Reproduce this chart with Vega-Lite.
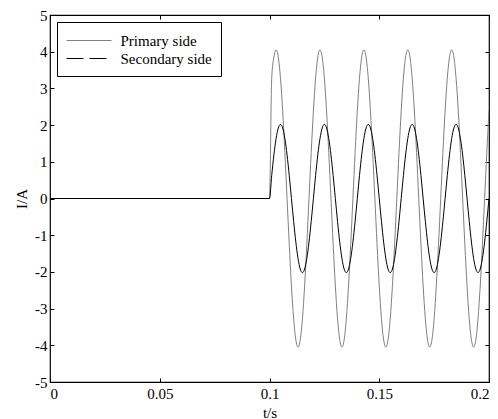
{
  "$schema": "https://vega.github.io/schema/vega-lite/v6.json",
  "autosize": {"type": "none"},
  "padding": {"left": 50, "top": 15, "right": 9, "bottom": 37},
  "width": 439,
  "height": 367,
  "background": "white",
  "config": {
    "view": {"stroke": "black", "strokeWidth": 1.2},
    "font": "Liberation Serif",
    "axis": {
      "grid": false,
      "zindex": 1,
      "domain": false,
      "ticks": true,
      "tickColor": "black",
      "tickWidth": 1,
      "tickSize": 4,
      "offset": -4,
      "labelColor": "black",
      "titleColor": "black",
      "labelFont": "Liberation Serif",
      "titleFont": "Liberation Serif",
      "labelFontSize": 15,
      "titleFontSize": 15,
      "titleFontWeight": "normal"
    }
  },
  "data": {"values": [
    {"t":0,"p":0,"s":0},
    {"t":0.1,"p":0,"s":0},
    {"t":0.101,"p":3.277,"s":0.624},
    {"t":0.102,"p":3.852,"s":1.187},
    {"t":0.103,"p":4.05,"s":1.634},
    {"t":0.104,"p":3.852,"s":1.921},
    {"t":0.105,"p":3.277,"s":2.02},
    {"t":0.106,"p":2.381,"s":1.921},
    {"t":0.107,"p":1.252,"s":1.634},
    {"t":0.108,"p":0,"s":1.187},
    {"t":0.109,"p":-1.252,"s":0.624},
    {"t":0.11,"p":-2.381,"s":0},
    {"t":0.111,"p":-3.277,"s":-0.624},
    {"t":0.112,"p":-3.852,"s":-1.187},
    {"t":0.113,"p":-4.05,"s":-1.634},
    {"t":0.114,"p":-3.852,"s":-1.921},
    {"t":0.115,"p":-3.277,"s":-2.02},
    {"t":0.116,"p":-2.381,"s":-1.921},
    {"t":0.117,"p":-1.252,"s":-1.634},
    {"t":0.118,"p":0,"s":-1.187},
    {"t":0.119,"p":1.252,"s":-0.624},
    {"t":0.12,"p":2.381,"s":0},
    {"t":0.121,"p":3.277,"s":0.624},
    {"t":0.122,"p":3.852,"s":1.187},
    {"t":0.123,"p":4.05,"s":1.634},
    {"t":0.124,"p":3.852,"s":1.921},
    {"t":0.125,"p":3.277,"s":2.02},
    {"t":0.126,"p":2.381,"s":1.921},
    {"t":0.127,"p":1.252,"s":1.634},
    {"t":0.128,"p":0,"s":1.187},
    {"t":0.129,"p":-1.252,"s":0.624},
    {"t":0.13,"p":-2.381,"s":0},
    {"t":0.131,"p":-3.277,"s":-0.624},
    {"t":0.132,"p":-3.852,"s":-1.187},
    {"t":0.133,"p":-4.05,"s":-1.634},
    {"t":0.134,"p":-3.852,"s":-1.921},
    {"t":0.135,"p":-3.277,"s":-2.02},
    {"t":0.136,"p":-2.381,"s":-1.921},
    {"t":0.137,"p":-1.252,"s":-1.634},
    {"t":0.138,"p":0,"s":-1.187},
    {"t":0.139,"p":1.252,"s":-0.624},
    {"t":0.14,"p":2.381,"s":0},
    {"t":0.141,"p":3.277,"s":0.624},
    {"t":0.142,"p":3.852,"s":1.187},
    {"t":0.143,"p":4.05,"s":1.634},
    {"t":0.144,"p":3.852,"s":1.921},
    {"t":0.145,"p":3.277,"s":2.02},
    {"t":0.146,"p":2.381,"s":1.921},
    {"t":0.147,"p":1.252,"s":1.634},
    {"t":0.148,"p":0,"s":1.187},
    {"t":0.149,"p":-1.252,"s":0.624},
    {"t":0.15,"p":-2.381,"s":0},
    {"t":0.151,"p":-3.277,"s":-0.624},
    {"t":0.152,"p":-3.852,"s":-1.187},
    {"t":0.153,"p":-4.05,"s":-1.634},
    {"t":0.154,"p":-3.852,"s":-1.921},
    {"t":0.155,"p":-3.277,"s":-2.02},
    {"t":0.156,"p":-2.381,"s":-1.921},
    {"t":0.157,"p":-1.252,"s":-1.634},
    {"t":0.158,"p":0,"s":-1.187},
    {"t":0.159,"p":1.252,"s":-0.624},
    {"t":0.16,"p":2.381,"s":0},
    {"t":0.161,"p":3.277,"s":0.624},
    {"t":0.162,"p":3.852,"s":1.187},
    {"t":0.163,"p":4.05,"s":1.634},
    {"t":0.164,"p":3.852,"s":1.921},
    {"t":0.165,"p":3.277,"s":2.02},
    {"t":0.166,"p":2.381,"s":1.921},
    {"t":0.167,"p":1.252,"s":1.634},
    {"t":0.168,"p":0,"s":1.187},
    {"t":0.169,"p":-1.252,"s":0.624},
    {"t":0.17,"p":-2.381,"s":0},
    {"t":0.171,"p":-3.277,"s":-0.624},
    {"t":0.172,"p":-3.852,"s":-1.187},
    {"t":0.173,"p":-4.05,"s":-1.634},
    {"t":0.174,"p":-3.852,"s":-1.921},
    {"t":0.175,"p":-3.277,"s":-2.02},
    {"t":0.176,"p":-2.381,"s":-1.921},
    {"t":0.177,"p":-1.252,"s":-1.634},
    {"t":0.178,"p":0,"s":-1.187},
    {"t":0.179,"p":1.252,"s":-0.624},
    {"t":0.18,"p":2.381,"s":0},
    {"t":0.181,"p":3.277,"s":0.624},
    {"t":0.182,"p":3.852,"s":1.187},
    {"t":0.183,"p":4.05,"s":1.634},
    {"t":0.184,"p":3.852,"s":1.921},
    {"t":0.185,"p":3.277,"s":2.02},
    {"t":0.186,"p":2.381,"s":1.921},
    {"t":0.187,"p":1.252,"s":1.634},
    {"t":0.188,"p":0,"s":1.187},
    {"t":0.189,"p":-1.252,"s":0.624},
    {"t":0.19,"p":-2.381,"s":0},
    {"t":0.191,"p":-3.277,"s":-0.624},
    {"t":0.192,"p":-3.852,"s":-1.187},
    {"t":0.193,"p":-4.05,"s":-1.634},
    {"t":0.194,"p":-3.852,"s":-1.921},
    {"t":0.195,"p":-3.277,"s":-2.02},
    {"t":0.196,"p":-2.381,"s":-1.921},
    {"t":0.197,"p":-1.252,"s":-1.634},
    {"t":0.198,"p":0,"s":-1.187},
    {"t":0.199,"p":1.252,"s":-0.624},
    {"t":0.2,"p":2.381,"s":0}
  ]},
  "transform": [{"fold": ["p", "s"], "as": ["series", "I"]}],
  "layer": [
    {
      "mark": {"type": "line", "strokeWidth": 1, "interpolate": "monotone", "clip": true},
      "encoding": {
        "x": {"field": "t", "type": "quantitative",
              "scale": {"domain": [0, 0.2], "nice": false, "zero": false},
              "axis": {"orient": "bottom", "title": "t/s", "values": [0, 0.05, 0.1, 0.15, 0.2], "labelExpr": "'' + datum.value", "labelPadding": 4, "titlePadding": 4}},
        "y": {"field": "I", "type": "quantitative",
              "scale": {"domain": [-5, 5], "nice": false},
              "axis": {"orient": "left", "title": "I/A", "values": [-5,-4,-3,-2,-1,0,1,2,3,4,5], "labelExpr": "'' + datum.value", "labelPadding": 3, "titlePadding": 5}},
        "color": {"field": "series", "type": "nominal",
                  "scale": {"domain": ["p", "s"], "range": ["#808080", "#000000"]},
                  "legend": {
                    "orient": "top-left", "offset": 7, "title": null,
                    "symbolType": "M-2.5,0H2.5", "symbolSize": 324, "symbolStrokeWidth": 1, "symbolOffset": 13.5,
                    "labelFont": "Liberation Serif", "labelFontSize": 15, "labelColor": "black",
                    "labelOffset": 22, "rowPadding": 0,
                    "strokeColor": "black", "fillColor": "white", "padding": 9, "cornerRadius": 0,
                    "labelExpr": "datum.value == 'p' ? 'Primary side' : 'Secondary side'",
                    "encode": {"symbols": {"update": {"stroke": {"value": "black"}, "fill": {"value": "transparent"}, "strokeDash": {"signal": "datum.value == 's' ? [17, 6] : [100, 0]"}}}}
                  }}
      }
    },
    {
      "mark": {"type": "line", "opacity": 0},
      "encoding": {
        "x": {"field": "t", "type": "quantitative",
              "axis": {"orient": "top", "title": null, "values": [0, 0.05, 0.1, 0.15, 0.2], "labels": false}},
        "y": {"field": "I", "type": "quantitative",
              "axis": {"orient": "right", "title": null, "values": [-5,-4,-3,-2,-1,0,1,2,3,4,5], "labels": false}}
      }
    }
  ],
  "resolve": {"axis": {"x": "independent", "y": "independent"}}
}
